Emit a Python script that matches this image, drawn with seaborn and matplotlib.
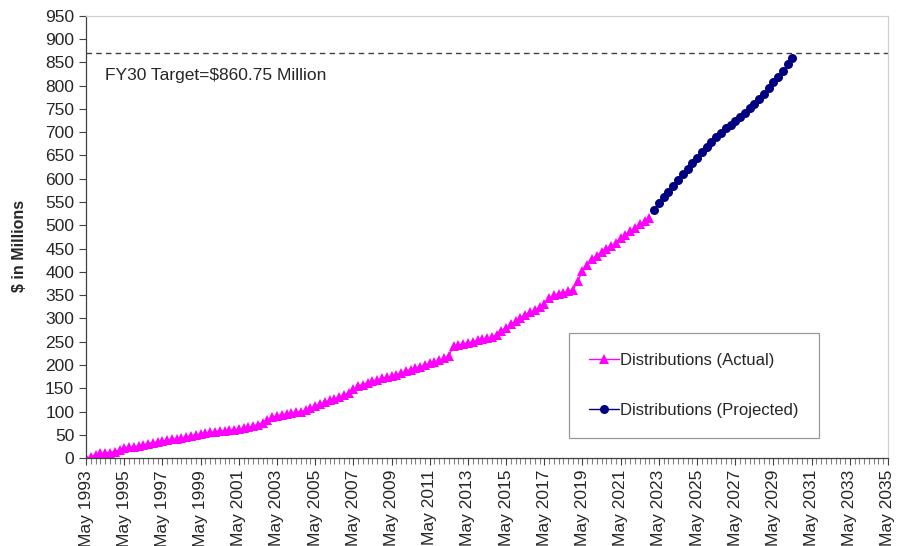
import pandas as pd
import numpy as np
import matplotlib
matplotlib.use("Agg")
import matplotlib.pyplot as plt
import matplotlib.dates as mdates
import matplotlib.ticker as mticker
import seaborn as sns

# quarterly distributions, $ millions
actual_start = "1993-05-01"
actual_values = [
    0, 3, 7, 10,          # May 1993
    11, 12, 14, 18,       # May 1994
    22, 23, 24, 26,       # May 1995
    29, 31, 33, 35,       # May 1996
    37, 38, 40, 42,       # May 1997
    43, 45, 47, 49,       # May 1998
    52, 54, 55, 57,       # May 1999
    58, 59, 60, 61,       # May 2000
    62, 64, 66, 69,       # May 2001
    72, 76, 82, 88,       # May 2002
    91, 93, 95, 96,       # May 2003
    98, 100, 103, 107,    # May 2004
    112, 116, 120, 124,   # May 2005
    128, 131, 135, 140,   # May 2006
    148, 154, 158, 162,   # May 2007
    165, 168, 171, 174,   # May 2008
    176, 179, 183, 187,   # May 2009
    190, 193, 196, 200,   # May 2010
    204, 207, 210, 214,   # May 2011
    220, 241, 243, 245,   # May 2012
    247, 250, 253, 255,   # May 2013
    257, 260, 265, 274,   # May 2014
    280, 287, 294, 302,   # May 2015
    308, 313, 318, 324,   # May 2016
    332, 343, 350, 353,   # May 2017
    355, 358, 362, 380,   # May 2018
    402, 415, 428, 435,   # May 2019
    442, 450, 456, 462,   # May 2020
    472, 480, 488, 495,   # May 2021
    502, 509, 516,        # May 2022
]

projected_start = "2023-02-01"
projected_values = [
    533, 548, 560, 572, 585, 598, 610, 622, 634, 645,
    657, 668, 680, 690, 699, 708, 716, 724, 733, 742,
    751, 761, 772, 783, 795, 807, 819, 832, 846, 860,
]

axis_start = "1993-05-01"
axis_end = "2035-05-01"

target_line = 870
target_text = "FY30 Target=$860.75 Million"

actual = pd.DataFrame({
    "date": pd.date_range(actual_start, periods=len(actual_values), freq="3MS"),
    "value": actual_values,
})
projected = pd.DataFrame({
    "date": pd.date_range(projected_start, periods=len(projected_values), freq="3MS"),
    "value": projected_values,
})

sns.set_style("ticks")
plt.rcParams["font.family"] = ["Liberation Sans", "DejaVu Sans"]

fig = plt.figure(figsize=(8.97, 5.46), dpi=100)
ax = fig.add_axes([0.0959, 0.161, 0.894, 0.810])

sns.lineplot(data=actual, x="date", y="value", ax=ax, color="#FF00FF",
             marker="^", markersize=7.5, markeredgewidth=0, linewidth=1,
             label="Distributions (Actual)")
sns.lineplot(data=projected, x="date", y="value", ax=ax, color="#000080",
             marker="o", markersize=6.5, markeredgewidth=0, linewidth=1,
             label="Distributions (Projected)")

ax.axhline(target_line, color="#404040", linestyle=(0, (4, 3)), linewidth=1)
ax.text(0.024, 0.866, target_text, transform=ax.transAxes, fontsize=12.5,
        ha="left", va="center")

ax.set_xlim(pd.Timestamp(axis_start), pd.Timestamp(axis_end))
ax.set_ylim(0, 950)
ax.set_yticks(np.arange(0, 951, 50))
major_dates = pd.date_range(axis_start, axis_end, freq="24MS")
minor_dates = pd.date_range(axis_start, axis_end, freq="3MS")
ax.xaxis.set_major_locator(mticker.FixedLocator(mdates.date2num(major_dates)))
ax.xaxis.set_minor_locator(mticker.FixedLocator(mdates.date2num(minor_dates)))
ax.xaxis.set_major_formatter(mdates.DateFormatter("%b %Y"))
plt.setp(ax.get_xticklabels(), rotation=90)

ax.tick_params(axis="both", which="major", labelsize=12.5, length=5,
               width=0.8, color="#404040", direction="out")
ax.tick_params(axis="x", which="minor", length=4, width=0.8, color="#808080")
ax.set_xlabel("")
ax.set_ylabel("$ in Millions", fontsize=11.5, fontweight="bold")
ax.yaxis.set_label_coords(-0.074, 0.48)

for side in ["left", "bottom"]:
    ax.spines[side].set_color("#404040")
    ax.spines[side].set_linewidth(0.9)
for side in ["top", "right"]:
    ax.spines[side].set_visible(True)
    ax.spines[side].set_color("#D0D0D0")
    ax.spines[side].set_linewidth(0.9)

leg = ax.legend(loc="upper left", bbox_to_anchor=(0.602, 0.283), fontsize=12,
                frameon=True, fancybox=False, edgecolor="#808080",
                labelspacing=2.1, handlelength=1.8, handletextpad=0.1,
                borderpad=1.2, borderaxespad=0)
leg.get_frame().set_linewidth(0.9)

fig.savefig("out.png", dpi=100)
